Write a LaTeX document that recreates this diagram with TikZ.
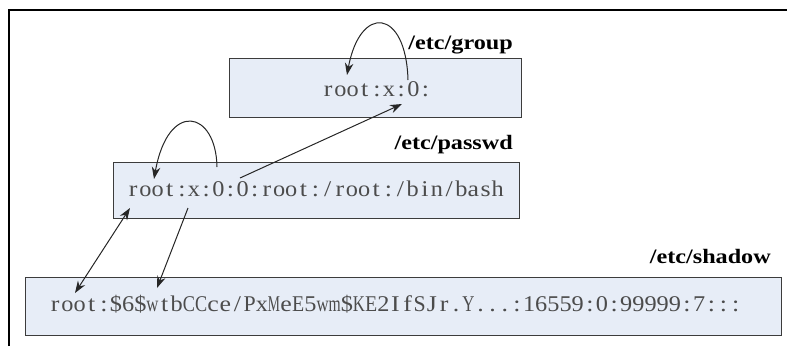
\documentclass[tikz,border=0pt]{standalone}
\usepackage{fontspec}
\usepackage{graphicx}
\usetikzlibrary{arrows.meta}
\setmainfont{Liberation Serif}
\newfontfamily\labelfont[FakeStretch=1.18]{Liberation Serif Bold}
\newfontfamily\cellfont[FakeStretch=1.15]{Liberation Serif}
\definecolor{boxfill}{RGB}{231,237,247}
\definecolor{boxline}{RGB}{60,60,60}
\newlength\cellw
\setlength\cellw{12.15pt}
\newlength\mcw
\newcommand\mspcchar[1]{{\settowidth\mcw{#1}%
  \ifdim\mcw>1.0\cellw
    \pgfmathsetmacro\mcf{1.0*\cellw/\mcw}%
    \makebox[\cellw]{\scalebox{\mcf}[1]{#1}}%
  \else
    \makebox[\cellw]{#1}%
  \fi}}
\def\mspcloop#1{\ifx#1\relax\else\mspcchar{#1}\expandafter\mspcloop\fi}
\newcommand\mspc[1]{\mspcloop#1\relax}
\tikzset{
  filebox/.style={draw=boxline, fill=boxfill, line width=1.3pt, inner sep=0pt, anchor=north west},
  celltext/.style={inner sep=0pt, anchor=base west, text=black!70, font=\cellfont\fontsize{22.5}{24}\selectfont},
  filelabel/.style={inner sep=0pt, anchor=base east, font=\labelfont\fontsize{20.5}{22}\selectfont},
  link/.style={line width=1pt, black!85, -{Stealth[length=12pt,width=8.5pt]}},
  dlink/.style={line width=1pt, black!85, {Stealth[length=12pt,width=8.5pt]}-{Stealth[length=12pt,width=8.5pt]}},
  frame/.style={line width=2pt, black}
}
\begin{document}
\begin{tikzpicture}[x=1pt,y=-1pt]
\useasboundingbox (0,0) rectangle (787,346);
% frame
\coordinate (fbl) at (9,346);
\coordinate (ftl) at (9,10);
\coordinate (ftr) at (787,10);
\draw[frame] (fbl) -- (ftl) -- (ftr);
% boxes
\node[filebox, minimum width=292pt, minimum height=59pt] (grp) at (229,58) {};
\node[filebox, minimum width=406pt, minimum height=56pt] (pwd) at (113,162) {};
\node[filebox, minimum width=756pt, minimum height=58pt] (shd) at (25,277) {};
% labels
\node[filelabel] (lgrp) at (513,49) {/etc/group};
\node[filelabel] (lpwd) at (513,149) {/etc/passwd};
\node[filelabel] (lshd) at (771,263) {/etc/shadow};
% texts
\node[celltext] (tgrp) at (322,96.5) {\mspc{root:x:0:}};
\node[celltext] (tpwd) at (127,196.5) {\mspc{root:x:0:0:root:/root:/bin/bash}};
\node[celltext] (tshd) at (49,311.5) {\mspc{root:\$6\$wtbCCce/PxMeE5wm\$KE2IfSJr.Y...:16559:0:99999:7:::}};
% connector end points
\coordinate (g0) at (408,80);
\coordinate (groot) at (347,75);
\coordinate (gin) at (402,104);
\coordinate (puid) at (217,167);
\coordinate (pgid) at (240,178);
\coordinate (proot) at (154,179);
\coordinate (pname) at (130,208);
\coordinate (px) at (188,208);
\coordinate (sname) at (75,293);
\coordinate (spw) at (157,288);
% connectors
\draw[link] (g0) .. controls (406,8) and (360,4) .. (groot);
\draw[link] (puid) .. controls (216,110) and (168,100) .. (proot);
\draw[link] (pgid) -- (gin);
\draw[dlink] (sname) -- (pname);
\draw[link] (px) -- (spw);
\end{tikzpicture}
\end{document}
